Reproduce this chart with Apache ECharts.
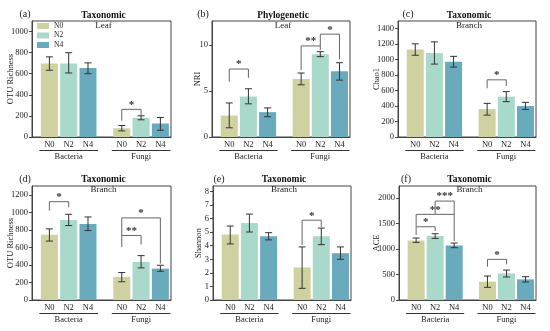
<!DOCTYPE html>
<html><head><meta charset="utf-8">
<script src="https://cdn.jsdelivr.net/npm/echarts@6/dist/echarts.min.js"></script>
<style>html,body{margin:0;padding:0;background:#fff}#c{width:550px;height:331px}</style>
</head><body><div id="c"></div>
<script>
// ---------- DATA ----------
const treatments = ['N0', 'N2', 'N4'];
const groups = ['Bacteria', 'Fungi'];
// each array: Bacteria N0, N2, N4, Fungi N0, N2, N4
const aMean = [696, 696, 655, 83, 182, 128];
const aLow  = [633, 607, 600, 58, 163, 64];
const aHigh = [760, 799, 703, 109, 201, 185];
const bMean = [2.33, 4.4, 2.7, 6.3, 9.0, 7.13];
const bLow  = [1.0, 3.6, 2.2, 5.67, 8.73, 6.18];
const bHigh = [3.7, 5.24, 3.16, 6.95, 9.27, 8.07];
const cMean = [1130, 1087, 974, 361, 522, 400];
const cLow  = [1057, 943, 904, 283, 457, 357];
const cHigh = [1205, 1230, 1043, 435, 587, 448];
const dMean = [743, 913, 868, 264, 434, 358];
const dLow  = [672, 849, 792, 208, 366, 328];
const dHigh = [811, 977, 947, 313, 506, 396];
const eMean = [4.82, 5.67, 4.69, 2.4, 4.69, 3.45];
const eLow  = [4.13, 5.01, 4.43, 0.86, 4.08, 3.0];
const eHigh = [5.45, 6.33, 4.96, 3.91, 5.3, 3.91];
const fMean = [1166, 1251, 1068, 358, 521, 404];
const fLow  = [1127, 1205, 1023, 248, 450, 352];
const fHigh = [1212, 1296, 1114, 469, 586, 456];
// significance brackets: [from bar, to bar, top, left leg bottom, right leg bottom]
const aSig = [[3, 4, 262, 153, 208]];
const aSigLabel = ['*'];
const bSig = [[0, 1, 7.38, 6.0, 6.43], [3, 4, 9.89, 7.27, 9.45], [4, 5, 11.17, 9.89, 8.44]];
const bSigLabel = ['*', '**', '*'];
const cSig = [[3, 4, 739, 631, 661]];
const cSigLabel = ['*'];
const dSig = [[0, 1, 1121, 1019, 1057], [3, 5, 936, 736, 415], [3, 4, 736, 604, 634]];
const dSigLabel = ['*', '*', '**'];
const eSig = [[3, 4, 5.88, 4.04, 5.39]];
const eSigLabel = ['*'];
const fSig = [[0, 1, 1433, 1271, 1349], [0, 2, 1675, 1433, 1153], [1, 2, 1935, 1675, 1675], [3, 4, 795, 652, 698]];
const fSigLabel = ['*', '**', '***', '*'];

const panelLetters = ['(a)', '(b)', '(c)', '(d)', '(e)', '(f)'];
const panelTitles = ['Taxonomic', 'Phylogenetic', 'Taxonomic', 'Taxonomic', 'Taxonomic', 'Taxonomic'];
const panelSubtitles = ['Leaf', 'Leaf', 'Branch', 'Branch', 'Branch', 'Branch'];
const yNames = ['OTU Richness', 'NRI', 'Chao1', 'OTU Richness', 'Shannon', 'ACE'];
const yMax = [1100, 12.6, 1500, 1300, 8.4, 2230];
const yStep = [200, 5, 200, 200, 1, 500];

// ---------- LAYOUT ----------
const colors = ['#cfd2a0', '#a9d9cb', '#6aaabd'];
const FONT = '"Liberation Serif", "DejaVu Serif", serif';
const grids = [
  {left: 32, top: 21, width: 139, height: 116},
  {left: 212, top: 21, width: 138, height: 116},
  {left: 398, top: 21, width: 138, height: 116},
  {left: 32, top: 186, width: 139, height: 114},
  {left: 213, top: 186, width: 138, height: 114},
  {left: 399, top: 186, width: 137, height: 114}
];
const letterPos = [[25, 14], [203, 14], [408, 14], [25, 179], [219, 179], [406, 179]];
const nameGaps = [17, 10, 17, 17, 9.5, 18];
const groupStart = [0.9, 4.65];
function pos(k) { return groupStart[Math.floor(k / 3)] + (k % 3); }

const means = [aMean, bMean, cMean, dMean, eMean, fMean];
const lows = [aLow, bLow, cLow, dLow, eLow, fLow];
const highs = [aHigh, bHigh, cHigh, dHigh, eHigh, fHigh];
const sigs = [aSig, bSig, cSig, dSig, eSig, fSig];
const sigLabels = [aSigLabel, bSigLabel, cSigLabel, dSigLabel, eSigLabel, fSigLabel];

const xPositions = [0, 1, 2, 3, 4, 5].map(pos);

function ticks(max, step) {
  const out = [];
  for (let v = 0; v <= max + 1e-9; v += step) out.push(+v.toFixed(6));
  return out;
}

const xAxes = [], yAxes = [], series = [], graphics = [];
grids.forEach((g, p) => {
  xAxes.push({
    type: 'value', gridIndex: p, min: 0, max: 7.2,
    axisLine: {show: true, lineStyle: {color: '#444', width: 1}},
    axisTick: {show: true, inside: true, length: 2, customValues: xPositions, lineStyle: {color: '#444'}},
    axisLabel: {customValues: xPositions, margin: 3, fontFamily: FONT, fontSize: 8.5, color: '#222',
      formatter: v => { const k = xPositions.findIndex(x => Math.abs(x - v) < 1e-6); return k >= 0 ? treatments[k % 3] : ''; }},
    splitLine: {show: false}
  });
  const yt = ticks(yMax[p], yStep[p]);
  yAxes.push({
    type: 'value', gridIndex: p, min: 0, max: yMax[p],
    name: yNames[p], nameLocation: 'middle', nameGap: nameGaps[p], nameRotate: 90, nameMoveOverlap: false,
    nameTextStyle: {fontFamily: FONT, fontSize: 8.5, color: '#222'},
    axisLine: {show: true, lineStyle: {color: '#444', width: 1}},
    axisTick: {show: true, inside: false, length: 3, customValues: yt, lineStyle: {color: '#444'}},
    axisLabel: {customValues: yt, margin: 4, fontFamily: FONT, fontSize: 8.5, color: '#222', formatter: v => String(v)},
    splitLine: {show: false}
  });
  treatments.forEach((t, ti) => {
    series.push({
      type: 'bar', name: t, xAxisIndex: p, yAxisIndex: p,
      barWidth: 17, barGap: '-100%',
      itemStyle: {color: colors[ti]},
      data: [[pos(ti), means[p][ti]], [pos(3 + ti), means[p][3 + ti]]]
    });
  });
  series.push({
    type: 'custom', xAxisIndex: p, yAxisIndex: p, z: 5,
    encode: {x: 0, y: [1, 2]},
    data: means[p].map((m, k) => [pos(k), lows[p][k], highs[p][k]]),
    renderItem: (params, api) => {
      const x = api.value(0);
      const a = api.coord([x, api.value(1)]), b = api.coord([x, api.value(2)]);
      const w = 3.5, st = {stroke: '#333', lineWidth: 1};
      return {type: 'group', children: [
        {type: 'line', shape: {x1: a[0], y1: a[1], x2: b[0], y2: b[1]}, style: st},
        {type: 'line', shape: {x1: a[0] - w, y1: a[1], x2: a[0] + w, y2: a[1]}, style: st},
        {type: 'line', shape: {x1: b[0] - w, y1: b[1], x2: b[0] + w, y2: b[1]}, style: st}
      ]};
    }
  });
  const labels = sigLabels[p];
  series.push({
    type: 'custom', xAxisIndex: p, yAxisIndex: p, z: 6,
    encode: {x: [0, 1], y: [2, 3, 4]},
    data: sigs[p].map(s => [pos(s[0]), pos(s[1]), s[2], s[3], s[4]]),
    renderItem: (params, api) => {
      const x1 = api.value(0), x2 = api.value(1), top = api.value(2);
      const p1 = api.coord([x1, api.value(3)]), p2 = api.coord([x1, top]);
      const p3 = api.coord([x2, top]), p4 = api.coord([x2, api.value(4)]);
      return {type: 'group', children: [
        {type: 'polyline', shape: {points: [p1, p2, p3, p4]}, style: {stroke: '#666', lineWidth: 1, fill: null}},
        {type: 'text', x: (p2[0] + p3[0]) / 2, y: p2[1] + 1,
          style: {text: labels[params.dataIndex], fill: '#333', font: 'bold 11px ' + FONT, align: 'center', verticalAlign: 'bottom'}}
      ]};
    }
  });
  series.push({
    type: 'custom', xAxisIndex: p, yAxisIndex: p, z: 6,
    encode: {x: [0, 1]},
    data: [[pos(0), pos(2)], [pos(3), pos(5)]],
    renderItem: (params, api) => {
      const a = api.coord([api.value(0), 0]), b = api.coord([api.value(1), 0]);
      const y0 = a[1];
      return {type: 'group', children: [
        {type: 'line', shape: {x1: a[0] - 10, y1: y0 + 13.5, x2: b[0] + 10, y2: y0 + 13.5}, style: {stroke: '#333', lineWidth: 1}},
        {type: 'text', x: (a[0] + b[0]) / 2, y: y0 + 20,
          style: {text: groups[params.dataIndex], fill: '#222', font: '8.5px ' + FONT, align: 'center', verticalAlign: 'middle'}}
      ]};
    }
  });
  const cx = g.left + g.width / 2 + 2;
  const rowTitleY = p < 3 ? 16 : 180;
  const rowSubY = p < 3 ? 25.5 : 190;
  graphics.push({type: 'text', x: letterPos[p][0], y: letterPos[p][1],
    style: {text: panelLetters[p], fill: '#222', font: '10px ' + FONT, align: 'center', verticalAlign: 'middle'}});
  graphics.push({type: 'text', x: cx, y: rowTitleY,
    style: {text: panelTitles[p], fill: '#111', font: 'bold 9.5px ' + FONT, align: 'center', verticalAlign: 'middle'}});
  graphics.push({type: 'text', x: cx, y: rowSubY,
    style: {text: panelSubtitles[p], fill: '#222', font: '9px ' + FONT, align: 'center', verticalAlign: 'middle'}});
});

const chart = echarts.init(document.getElementById('c'), null, {renderer: 'canvas'});
chart.setOption({
  animation: false,
  backgroundColor: '#fff',
  grid: grids.map(g => Object.assign({show: true, borderColor: '#444', borderWidth: 1, containLabel: false}, g)),
  xAxis: xAxes,
  yAxis: yAxes,
  legend: {data: treatments, orient: 'vertical', left: 37, top: 22, itemWidth: 12, itemHeight: 6, itemGap: 1.5,
    icon: 'rect', padding: 0, textStyle: {fontFamily: FONT, fontSize: 7.5, color: '#222'}},
  graphic: graphics,
  series: series
});
</script></body></html>
